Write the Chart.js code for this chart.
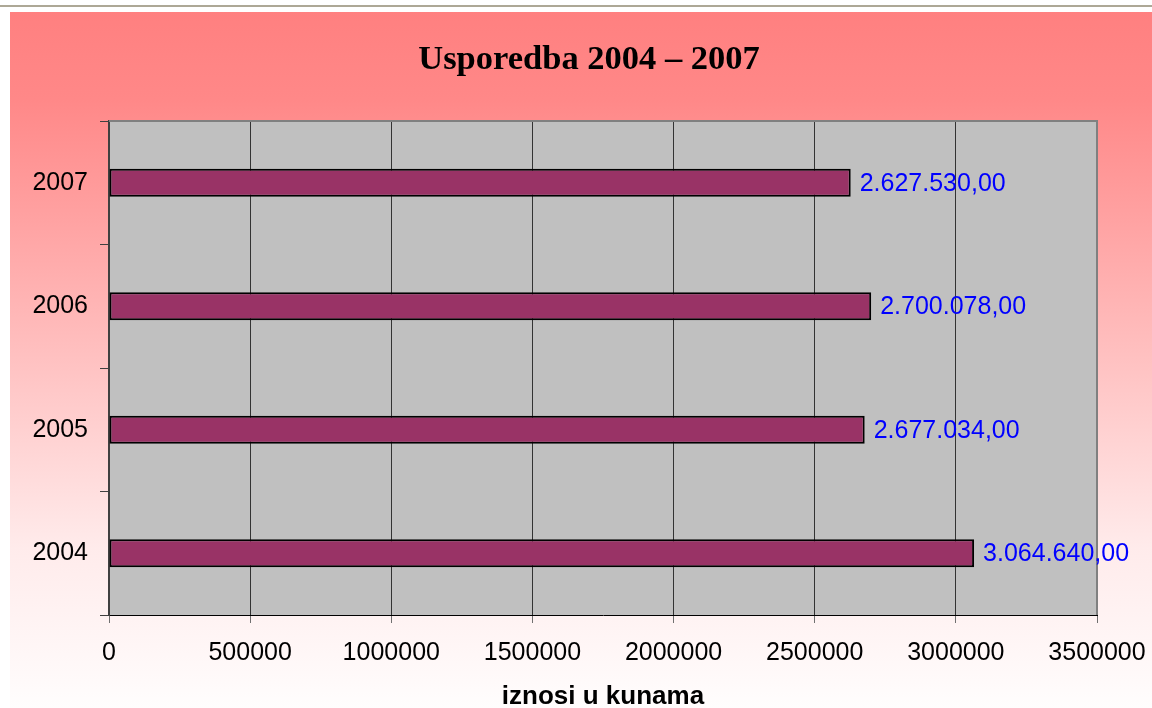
<!DOCTYPE html>
<html>
<head>
<meta charset="utf-8">
<script src="https://cdn.jsdelivr.net/npm/chart.js@4/dist/chart.umd.min.js"></script>
<style>
  html, body { margin: 0; padding: 0; background: #ffffff; width: 1152px; height: 708px; overflow: hidden; position: relative; }
  #topline { position: absolute; left: 0; top: 5px; width: 1152px; height: 2px; background: #ADA896; }
  #box { position: absolute; left: 10px; top: 12px; width: 1158px; height: 696px;
         background: linear-gradient(to bottom, rgb(255,128,128) 0%, rgb(255,136,136) 12.6%, rgb(255,153,153) 24%, rgb(255,235,235) 77%, rgb(255,253,253) 100%); }
  canvas { display: block; }
</style>
</head>
<body>
<div id="topline"></div>
<div id="box"><canvas id="c" width="1158" height="696"></canvas></div>
<script>
const categories = ['2004', '2005', '2006', '2007'];
const values = [3064640, 2677034, 2700078, 2627530];
const xTicks = [0, 500000, 1000000, 1500000, 2000000, 2500000, 3000000, 3500000];
const chartTitle = 'Usporedba 2004 \u2013 2007';
const xAxisTitle = 'iznosi u kunama';

function formatHr(v) {
  const s = Math.round(v).toString().replace(/\B(?=(\d{3})+(?!\d))/g, '.');
  return s + ',00';
}

const plotBg = {
  id: 'plotBg',
  beforeDraw(chart) {
    const {ctx, chartArea: a} = chart;
    ctx.save();
    ctx.fillStyle = '#C0C0C0';
    ctx.fillRect(a.left, a.top, a.right - a.left, a.bottom - a.top);
    ctx.restore();
  },
  beforeDatasetsDraw(chart) {
    const {ctx, chartArea: a} = chart;
    ctx.save();
    ctx.strokeStyle = '#808080';
    ctx.lineWidth = 2;
    ctx.beginPath();
    ctx.moveTo(a.left, a.top);
    ctx.lineTo(a.right, a.top);
    ctx.lineTo(a.right, a.bottom);
    ctx.stroke();
    ctx.restore();
  },
  afterDatasetsDraw(chart) {
    const {ctx} = chart;
    const meta = chart.getDatasetMeta(0);
    ctx.save();
    ctx.fillStyle = '#0000FF';
    ctx.font = '25px "Liberation Sans", Arial, sans-serif';
    ctx.textAlign = 'left';
    ctx.textBaseline = 'middle';
    meta.data.forEach((bar, i) => {
      ctx.fillText(formatHr(values[i]), bar.x + 9, bar.y + 1);
    });
    ctx.restore();
  }
};

new Chart(document.getElementById('c'), {
  type: 'bar',
  data: {
    labels: categories,
    datasets: [{
      data: values,
      backgroundColor: '#993366',
      borderColor: '#000000',
      borderWidth: 2,
      borderSkipped: false,
      categoryPercentage: 1,
      barPercentage: 0.227
    }]
  },
  options: {
    indexAxis: 'y',
    responsive: false,
    devicePixelRatio: 1,
    animation: false,
    layout: { padding: { left: 0, right: 0, top: 0, bottom: 0 } },
    plugins: {
      legend: { display: false },
      tooltip: { enabled: false },
      title: {
        display: true,
        text: chartTitle,
        color: '#000000',
        font: { family: '"Liberation Serif", "Times New Roman", serif', size: 34.5, weight: 'bold', lineHeight: 1.2 },
        padding: { top: 27, bottom: 40.6 }
      }
    },
    scales: {
      x: {
        type: 'linear',
        position: 'bottom',
        min: xTicks[0],
        max: xTicks[xTicks.length - 1],
        afterBuildTicks(scale) { scale.ticks = xTicks.map(v => ({ value: v })); },
        afterFit(scale) { scale.height = 93; },
        ticks: {
          color: '#000000',
          font: { family: '"Liberation Sans", Arial, sans-serif', size: 25 },
          padding: 15,
          maxRotation: 0,
          autoSkip: false,
          callback: v => String(v)
        },
        grid: { color: '#333333', lineWidth: 1, tickLength: 8, tickColor: '#707070', drawTicks: true },
        border: { display: true, color: '#000000', width: 1 },
        title: {
          display: true,
          text: xAxisTitle,
          color: '#000000',
          font: { family: '"Liberation Sans", Arial, sans-serif', size: 26, weight: 'bold', lineHeight: 0.85 },
          padding: { top: 0, bottom: 0 }
        }
      },
      y: {
        type: 'category',
        reverse: true,
        afterFit(scale) { scale.width = 99; },
        ticks: {
          color: '#000000',
          font: { family: '"Liberation Sans", Arial, sans-serif', size: 25 },
          padding: 12
        },
        grid: { offset: true, drawOnChartArea: false, drawTicks: true, tickLength: 9, color: '#404040', tickColor: '#404040' },
        border: { display: true, color: '#404040', width: 2 }
      },
      ySpacer: {
        type: 'linear',
        axis: 'y',
        position: 'right',
        display: true,
        afterFit(scale) { scale.width = 71; },
        ticks: { display: false },
        grid: { display: false, drawTicks: false },
        border: { display: false }
      }
    }
  },
  plugins: [plotBg]
});
</script>
</body>
</html>
